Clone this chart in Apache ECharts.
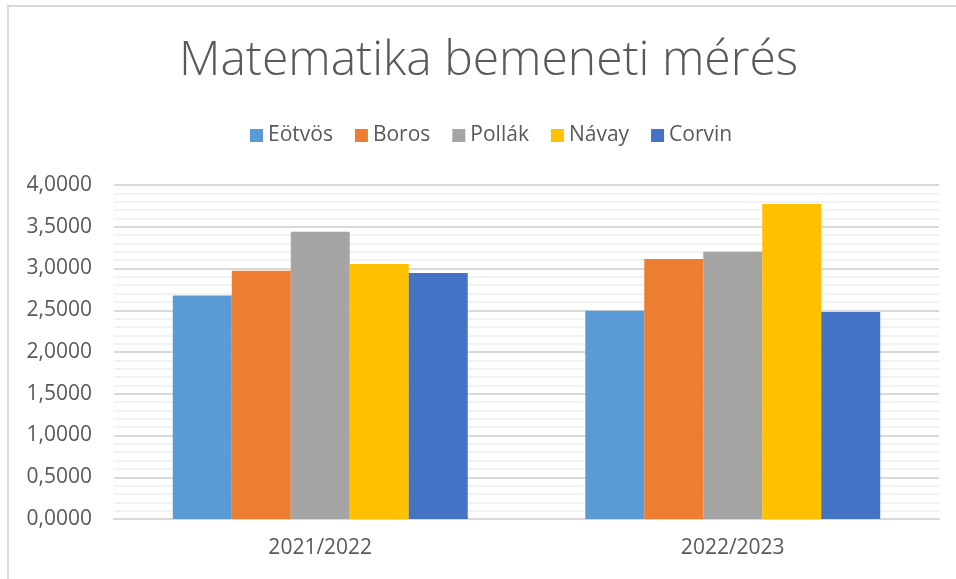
<!DOCTYPE html>
<html>
<head>
<meta charset="utf-8">
<script src="https://cdn.jsdelivr.net/npm/echarts@6/dist/echarts.min.js"></script>
<style>
  html, body { margin: 0; padding: 0; background: #fff; }
  #chart { width: 956px; height: 579px; }
</style>
</head>
<body>
<div id="chart"></div>
<script>
// adatok
const categories = ['2021/2022', '2022/2023']
const seriesNames = ['Eötvös', 'Boros', 'Pollák', 'Návay', 'Corvin']
const eotvos = [2.678, 2.495]
const boros = [2.974, 3.114]
const pollak = [3.441, 3.201]
const navay = [3.054, 3.772]
const corvin = [2.946, 2.479]
const colors = ['#5b9bd5', '#ed7d31', '#a5a5a5', '#ffc000', '#4472c4']

const values = [eotvos, boros, pollak, navay, corvin]
const font = 'Open Sans'
const textColor = '#595959'

const chart = echarts.init(document.getElementById('chart'))

chart.setOption({
  animation: false,
  color: colors,
  title: {
    text: 'Matematika bemeneti mérés',
    left: 174,
    top: 32,
    textStyle: { fontFamily: font, fontWeight: 300, fontSize: 48, color: textColor }
  },
  legend: {
    top: 120,
    left: 245,
    itemWidth: 13,
    itemHeight: 13,
    itemGap: 22,
    icon: 'rect',
    textStyle: { fontFamily: font, fontSize: 21, color: textColor }
  },
  grid: { left: 114, right: 17, top: 185, bottom: 60, containLabel: false },
  xAxis: {
    type: 'category',
    data: categories,
    axisLine: { lineStyle: { color: '#d9d9d9', width: 2 } },
    axisTick: { show: false },
    axisLabel: { fontFamily: font, fontSize: 21, color: textColor, margin: 19 }
  },
  yAxis: {
    type: 'value',
    min: 0,
    max: 4,
    interval: 0.5,
    axisLine: { show: false },
    axisTick: { show: false },
    axisLabel: {
      fontFamily: font, fontSize: 21, color: textColor, margin: 22,
      formatter: v => v.toFixed(4).replace('.', ',')
    },
    splitLine: { lineStyle: { color: '#d9d9d9', width: 2 } },
    minorTick: { show: false, splitNumber: 5 },
    minorSplitLine: { show: true, lineStyle: { color: '#f2f2f2', width: 2 } }
  },
  series: seriesNames.map((name, i) => ({
    name,
    type: 'bar',
    data: values[i],
    barGap: '0%',
    barCategoryGap: '28.5%'
  })),
  graphic: [{
    type: 'polyline',
    shape: { points: [[8, 600], [8, 6], [980, 6]] },
    style: { stroke: '#d9d9d9', lineWidth: 2, fill: null }
  }]
})
</script>
</body>
</html>
